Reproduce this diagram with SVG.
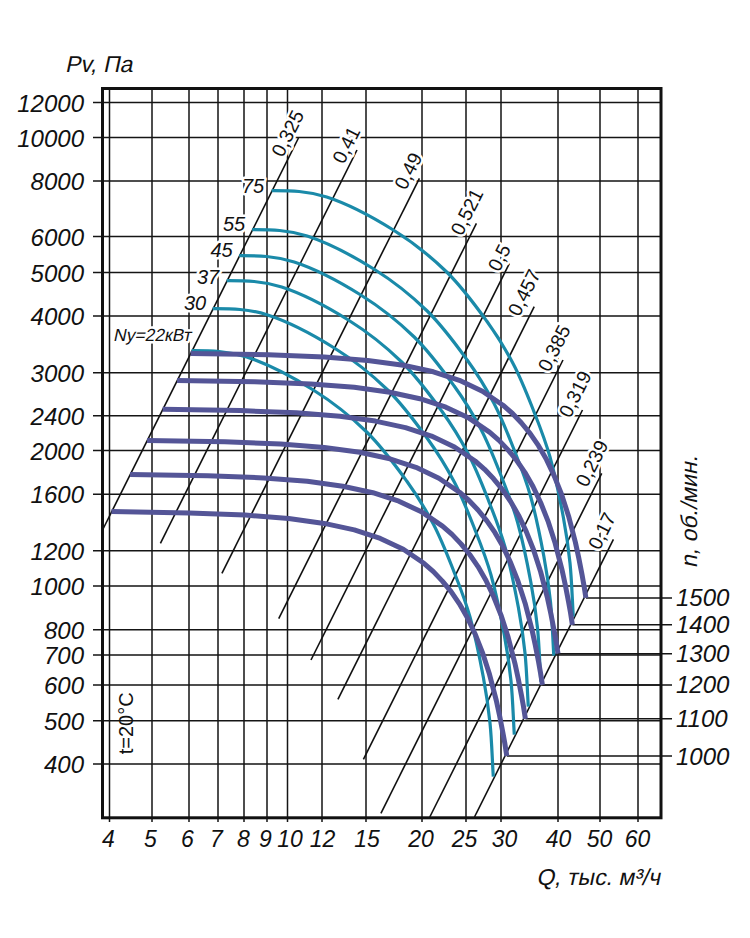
<svg xmlns="http://www.w3.org/2000/svg" xmlns:xlink="http://www.w3.org/1999/xlink" width="750" height="938" viewBox="0 0 750 938">
<style>
.grid{stroke:#151515;stroke-width:1.5;fill:none}
.frame{stroke:#111;stroke-width:3;fill:none}
.diag{stroke:#111;stroke-width:1.6;fill:none}
.teal{stroke:#1a8aa9;stroke-width:3.2;fill:none;stroke-linejoin:round;stroke-linecap:butt}
.purp{stroke:#545597;stroke-width:5;fill:none;stroke-linejoin:round;stroke-linecap:butt}
.rpm{stroke:#151515;stroke-width:1.5;fill:none}
text{font-family:"Liberation Sans",Arial,sans-serif;fill:#111}
.tick{font-size:24px;font-style:italic}
.btick{font-size:23px;font-style:italic;text-anchor:middle}
.eff{font-size:19.5px;text-anchor:middle;stroke:#fff;stroke-width:5;paint-order:stroke;stroke-linejoin:round}
.pw{font-size:20px;font-style:italic;text-anchor:middle;stroke:#fff;stroke-width:5;paint-order:stroke;stroke-linejoin:round}
.ax{font-size:23px}
</style>
<defs>
<path id="tealBase" d="M191.7,350.7 C209.7,350.7 226.4,350.5 246.7,357 C267,363.6 293.3,377.5 313.3,390 C333.3,402.5 351.1,416.8 366.7,432 C382.3,447.2 395.6,465.7 406.7,481 C417.8,496.3 425.5,509.2 433.3,524 C441.1,538.8 447.2,554.5 453.3,570 C459.4,585.5 465,599.2 470,617 C475,634.8 480,659.3 483.3,677 C486.6,694.7 488.3,706.4 490,723 C491.7,739.6 492.2,758.8 493.3,776.7"/>
<path id="purpBase" d="M111.5,511.6 L189.1,512.9 L245.2,515.1 L288.7,518.5 L324.2,523.4 L354.3,529.9 L380.3,538.4 L403.3,549.3 L423.9,563.3 L433.4,571.6 L442.4,581.1 L451.1,591.7 L459.4,603.8 L467.4,617.7 L475,633.7 L482.4,652.3 L489.5,674.3 L496.3,700.5 L499.6,715.7 L502.9,732.7 L504.9,743.8 L506.8,756"/>
</defs>

<g id="grid" class="grid">
<path d="M93,102.5H661 M93,137.5H661 M93,181H661 M93,236.5H661 M93,272.5H661 M93,316H661 M93,372.7H661 M93,415.7H661 M93,450.5H661 M93,494.3H661 M93,550.7H661 M93,586H661 M93,629.7H661 M93,655H661 M93,685H661 M93,720.7H661 M93,764H661"/>
<path d="M109.5,88.5V822 M152,88.5V822 M189,88.5V822 M218,88.5V822 M244,88.5V822 M267,88.5V822 M287.5,88.5V822 M322,88.5V822 M366,88.5V822 M422,88.5V822 M466,88.5V822 M501,88.5V822 M558,88.5V822 M600,88.5V822 M638,88.5V822"/>
</g>

<g id="connectors">
<g id="rpm-lines" class="rpm">
<path d="M506.8,756H672 M525.4,718.8H672 M542.4,684.9H672 M558,653.7H672 M572.4,624.8H672 M585.9,597.9H672"/>
</g>
<g id="efficiency-lines" class="diag">
<line x1="298.5" y1="138" x2="101.8" y2="531.5"/>
<line x1="357" y1="150" x2="160.4" y2="543.3"/>
<line x1="419.4" y1="178.3" x2="221.9" y2="573.3"/>
<line x1="476.4" y1="223.3" x2="278.7" y2="618.7"/>
<line x1="509.4" y1="263.3" x2="311" y2="660"/>
<line x1="534.2" y1="306.7" x2="337.9" y2="699.3"/>
<line x1="563" y1="360" x2="363.4" y2="759.3"/>
<line x1="582.5" y1="410" x2="380.9" y2="813.3"/>
<line x1="601.7" y1="473.3" x2="429.8" y2="817"/>
<line x1="613.4" y1="539.3" x2="474.5" y2="817"/>
</g>
</g>

<g id="efficiency-labels">
<text class="eff" transform="translate(287.5,133.3) rotate(-63.43)" dy="7">0,325</text>
<text class="eff" transform="translate(346,145) rotate(-63.43)" dy="7">0,41</text>
<text class="eff" transform="translate(408,171) rotate(-63.43)" dy="7">0,49</text>
<text class="eff" transform="translate(466.7,211.7) rotate(-63.43)" dy="7">0,521</text>
<text class="eff" transform="translate(499,257.5) rotate(-63.43)" dy="7">0,5</text>
<text class="eff" transform="translate(524,292.5) rotate(-63.43)" dy="7">0,457</text>
<text class="eff" transform="translate(554,348) rotate(-63.43)" dy="7">0,385</text>
<text class="eff" transform="translate(575,394) rotate(-63.43)" dy="7">0,319</text>
<text class="eff" transform="translate(591.7,463.3) rotate(-63.43)" dy="7">0,239</text>
<text class="eff" transform="translate(601.7,531) rotate(-63.43)" dy="7">0,17</text>
</g>

<g id="power-curves" class="teal">
<use xlink:href="#tealBase" href="#tealBase"/>
<use xlink:href="#tealBase" href="#tealBase" transform="translate(21,-42)"/>
<use xlink:href="#tealBase" href="#tealBase" transform="translate(35,-70)"/>
<use xlink:href="#tealBase" href="#tealBase" transform="translate(47.5,-95)"/>
<use xlink:href="#tealBase" href="#tealBase" transform="translate(60.5,-121)"/>
<use xlink:href="#tealBase" href="#tealBase" transform="translate(80,-160)"/>
</g>

<g id="rpm-curves" class="purp">
<use xlink:href="#purpBase" href="#purpBase"/>
<use xlink:href="#purpBase" href="#purpBase" transform="translate(18.6,-37.2)"/>
<use xlink:href="#purpBase" href="#purpBase" transform="translate(35.6,-71.1)"/>
<use xlink:href="#purpBase" href="#purpBase" transform="translate(51.2,-102.3)"/>
<use xlink:href="#purpBase" href="#purpBase" transform="translate(65.6,-131.2)"/>
<use xlink:href="#purpBase" href="#purpBase" transform="translate(79.1,-158.1)"/>
</g>

<g id="power-labels">
<text class="pw" x="253" y="193">75</text>
<text class="pw" x="234" y="231">55</text>
<text class="pw" x="221.5" y="257">45</text>
<text class="pw" x="208" y="283.5">37</text>
<text class="pw" x="195" y="310">30</text>
<text transform="translate(113,341) skewX(-12)" font-size="17.5" stroke="#fff" stroke-width="5" paint-order="stroke" stroke-linejoin="round">Ny=22кВт</text>
</g>

<g id="frame">
<rect class="frame" x="102.5" y="88.5" width="558.5" height="729.3"/>
</g>

<g id="y-axis-labels" class="tick" text-anchor="end">
<text x="84" y="111.5">12000</text>
<text x="84" y="146.5">10000</text>
<text x="84" y="190">8000</text>
<text x="84" y="245.5">6000</text>
<text x="84" y="281.5">5000</text>
<text x="84" y="325">4000</text>
<text x="84" y="381.7">3000</text>
<text x="84" y="424.7">2400</text>
<text x="84" y="459.5">2000</text>
<text x="84" y="503.3">1600</text>
<text x="84" y="559.7">1200</text>
<text x="84" y="595">1000</text>
<text x="84" y="638.7">800</text>
<text x="84" y="664">700</text>
<text x="84" y="694">600</text>
<text x="84" y="729.7">500</text>
<text x="84" y="773">400</text>
</g>

<g id="x-axis-labels" class="btick">
<text x="108.5" y="847">4</text>
<text x="150.5" y="847">5</text>
<text x="187.5" y="847">6</text>
<text x="216.5" y="847">7</text>
<text x="243.5" y="847">8</text>
<text x="265.5" y="847">9</text>
<text x="290" y="847">10</text>
<text x="322.5" y="847">12</text>
<text x="367" y="847">15</text>
<text x="421" y="847">20</text>
<text x="464.5" y="847">25</text>
<text x="504.5" y="847">30</text>
<text x="558.5" y="847">40</text>
<text x="599.5" y="847">50</text>
<text x="637.5" y="847">60</text>
</g>

<g id="rpm-labels" class="tick">
<text x="676" y="606.4">1500</text>
<text x="676" y="633.3">1400</text>
<text x="676" y="662.2">1300</text>
<text x="676" y="693.4">1200</text>
<text x="676" y="727.3">1100</text>
<text x="676" y="764.5">1000</text>
</g>

<g id="axis-titles">
<text class="ax" transform="translate(65,71.5) skewX(-12)">Pv, Па</text>
<text class="ax" transform="translate(660,885) skewX(-12)" text-anchor="end">Q, тыс. м³/ч</text>
<text class="ax" font-size="22" text-anchor="middle" transform="translate(697,512) rotate(-90) skewX(-12)">n,  об./мин.</text>
<text font-size="20" text-anchor="middle" transform="translate(133,723.3) rotate(-90)">t=20°C</text>
</g>
</svg>
